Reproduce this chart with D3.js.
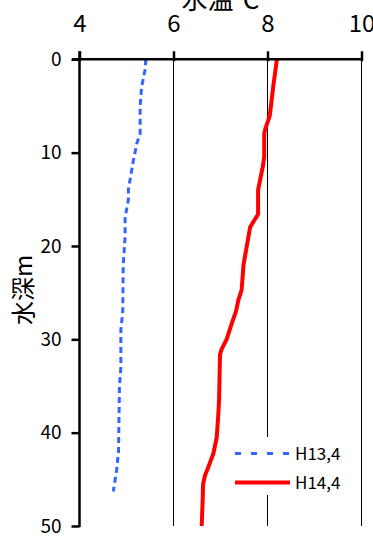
<!DOCTYPE html>
<html>
<head>
<meta charset="utf-8">
<script src="https://cdn.jsdelivr.net/npm/d3@7"></script>
<style>
  html, body { margin: 0; padding: 0; background: #fff; }
  svg { display: block; }
  text { font-family: "Noto Sans CJK JP", "Noto Sans", sans-serif; fill: #000; }
</style>
</head>
<body>
<svg id="chart" width="373" height="537"></svg>
<script>
// Water temperature profiles (depth in m, temperature in °C)
const seriesNames = ["H13,4", "H14,4"];
const h13Depth = [0, 1, 3, 5, 8, 9, 11, 14, 15, 17, 19, 22, 27, 29, 33, 35, 42, 44, 46.3];
const h13Temp  = [5.41, 5.40, 5.32, 5.29, 5.29, 5.22, 5.14, 5.04, 5.04, 4.97, 4.97, 4.93, 4.92, 4.88, 4.88, 4.85, 4.83, 4.79, 4.72];
const h14Depth = [0, 3, 6, 7.5, 8, 10.5, 11.5, 13, 14, 16.6, 17.4, 18, 20, 22, 24.7, 25.8, 27, 28.3, 30, 31, 31.6, 36.5, 38.3, 40.5, 42.2, 43.7, 44.6, 45.5, 47.3, 50];
const h14Temp  = [8.20, 8.12, 8.05, 7.95, 7.93, 7.93, 7.90, 7.84, 7.80, 7.80, 7.70, 7.63, 7.56, 7.49, 7.45, 7.38, 7.33, 7.24, 7.13, 7.03, 6.99, 6.97, 6.95, 6.92, 6.85, 6.74, 6.67, 6.63, 6.62, 6.60];
const xTicks = [4, 6, 8, 10];
const yTicks = [0, 10, 20, 30, 40, 50];
const xTitle = "水温℃";
const yTitle = "水深m";

const svg = d3.select("#chart");
const x = d3.scaleLinear().domain([4, 10]).range([79.5, 361.5]);
const y = d3.scaleLinear().domain([0, 50]).range([59.3, 526]);

// vertical gridlines
svg.append("g").selectAll("line")
  .data(xTicks.slice(1))
  .join("line")
  .attr("x1", d => x(d)).attr("x2", d => x(d))
  .attr("y1", y(0)).attr("y2", y(50))
  .attr("stroke", "#000").attr("stroke-width", 1);

const line = d3.line().x(d => x(d[1])).y(d => y(d[0]));
const s13 = h13Depth.map((d, i) => [d, h13Temp[i]]);
const s14 = h14Depth.map((d, i) => [d, h14Temp[i]]);

svg.append("path").datum(s13)
  .attr("d", line).attr("fill", "none")
  .attr("stroke", "#3366ff").attr("stroke-width", 3)
  .attr("stroke-dasharray", "6,4");

svg.append("path").datum(s14)
  .attr("d", line).attr("fill", "none")
  .attr("stroke", "#ff0000").attr("stroke-width", 4)
  .attr("stroke-linejoin", "round");

// legend
const lg = svg.append("g");
lg.append("rect").attr("x", 232).attr("y", 437).attr("width", 126).attr("height", 58).attr("fill", "#fff");
const styles = [
  { stroke: "#3366ff", width: 3, dash: "6,10" },
  { stroke: "#ff0000", width: 4, dash: null }
];
seriesNames.forEach((name, i) => {
  const yy = 453.5 + i * 29;
  lg.append("line").attr("x1", 235).attr("x2", 290).attr("y1", yy).attr("y2", yy)
    .attr("stroke", styles[i].stroke).attr("stroke-width", styles[i].width)
    .attr("stroke-dasharray", styles[i].dash);
  lg.append("text").attr("x", 295).attr("y", yy + 6.5)
    .attr("font-size", 17).text(name);
});

// top axis
const xAxis = d3.axisTop(x).tickValues(xTicks).tickSize(8).tickPadding(6).tickFormat(d3.format("d"));
const gx = svg.append("g").attr("transform", `translate(0,${y(0)})`).call(xAxis);
gx.select(".domain").remove();
gx.selectAll(".tick line").attr("stroke", "#000").attr("stroke-width", 2.5).attr("y2", -8).attr("y1", 2);
gx.selectAll(".tick text").attr("font-size", 24).attr("font-family", "Noto Sans CJK JP").attr("fill", "#000").attr("y", -27.5).attr("dy", "0");
svg.append("line").attr("x1", 72).attr("x2", x(10) + 1).attr("y1", y(0)).attr("y2", y(0))
  .attr("stroke", "#000").attr("stroke-width", 2.5);

// left axis
const yAxis = d3.axisLeft(y).tickValues(yTicks).tickSize(8).tickPadding(10).tickFormat(d3.format("d"));
const gy = svg.append("g").attr("transform", `translate(${x(4)},0)`).call(yAxis);
gy.select(".domain").remove();
gy.selectAll(".tick line").attr("stroke", "#000").attr("stroke-width", 2.5);
gy.selectAll(".tick text").attr("font-size", 19).attr("font-family", "Noto Sans CJK JP").attr("fill", "#000");
svg.append("line").attr("x1", x(4)).attr("x2", x(4)).attr("y1", y(0) - 8).attr("y2", y(50) + 1)
  .attr("stroke", "#000").attr("stroke-width", 2.5);

// titles
svg.append("text").attr("x", x(7)).attr("y", 9).attr("text-anchor", "middle")
  .attr("font-size", 26).text(xTitle);
svg.append("text").attr("transform", `translate(32,290) rotate(-90)`)
  .attr("text-anchor", "middle").attr("font-size", 24).text(yTitle);
</script>
</body>
</html>
